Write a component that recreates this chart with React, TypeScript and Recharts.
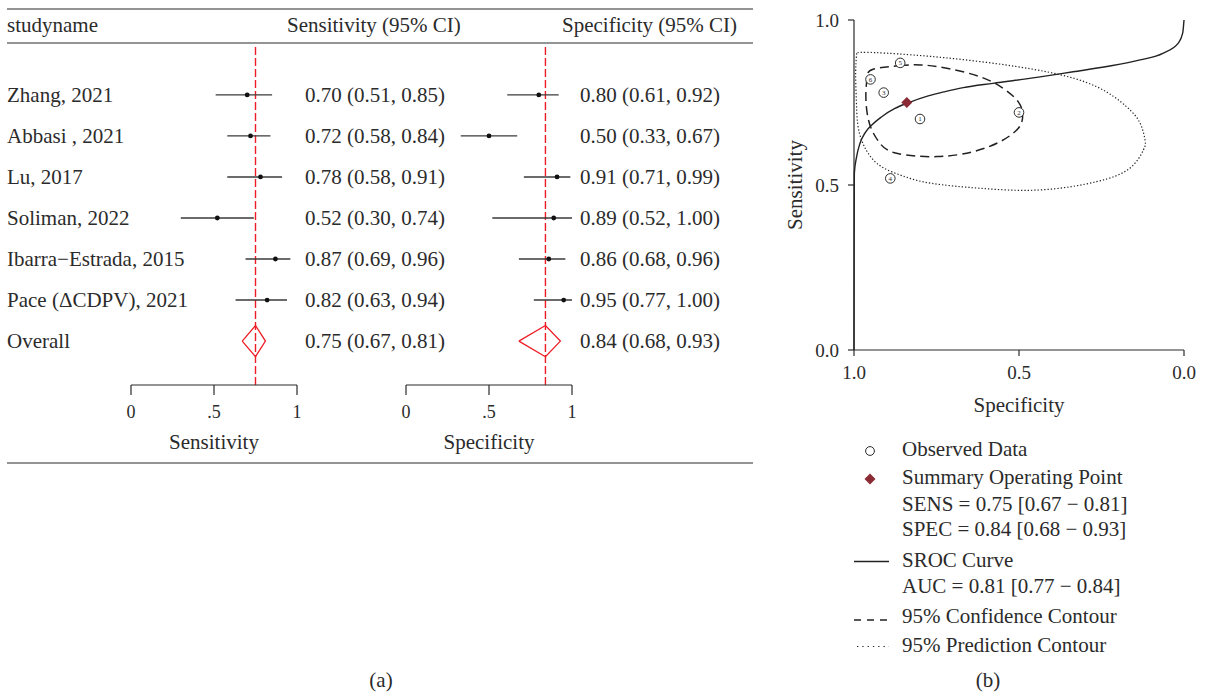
import React from 'react';
import { ScatterChart, Scatter, XAxis, YAxis, ErrorBar, ReferenceLine } from 'recharts';

const FONT = '"Liberation Serif", "Times New Roman", serif';
const INK = '#2b2b2b';
const RED = '#ee1c25';
const MAROON = '#8b2b35';

// forest plot data
const studies = ['Zhang, 2021', 'Abbasi , 2021', 'Lu, 2017', 'Soliman, 2022', 'Ibarra\u2212Estrada, 2015', 'Pace (\u0394CDPV), 2021'];
const sensEst = [0.7, 0.72, 0.78, 0.52, 0.87, 0.82];
const sensLow = [0.51, 0.58, 0.58, 0.3, 0.69, 0.63];
const sensHigh = [0.85, 0.84, 0.91, 0.74, 0.96, 0.94];
const specEst = [0.8, 0.5, 0.91, 0.89, 0.86, 0.95];
const specLow = [0.61, 0.33, 0.71, 0.52, 0.68, 0.77];
const specHigh = [0.92, 0.67, 0.99, 1.0, 0.96, 1.0];
const sensOverall = [0.75, 0.67, 0.81];
const specOverall = [0.84, 0.68, 0.93];
const aucOverall = [0.81, 0.77, 0.84];
const forestTicks = [0, 0.5, 1];

// SROC panel data (specificity, sensitivity)
const srocSpec = [1.0, 0.9995, 0.999, 0.992, 0.982, 0.967, 0.946, 0.916, 0.876, 0.836, 0.775, 0.724, 0.669, 0.579, 0.446, 0.336, 0.234, 0.133, 0.064, 0.018, 0.004, 0.0];
const srocSens = [0.0, 0.35, 0.535, 0.586, 0.626, 0.657, 0.682, 0.707, 0.732, 0.749, 0.77, 0.783, 0.795, 0.808, 0.826, 0.843, 0.859, 0.879, 0.899, 0.929, 0.96, 1.0];
const confSpec = [0.861, 0.8, 0.719, 0.618, 0.548, 0.502, 0.489, 0.502, 0.558, 0.639, 0.749, 0.871, 0.921, 0.946, 0.96, 0.964, 0.96, 0.942, 0.861];
const confSens = [0.862, 0.864, 0.854, 0.828, 0.793, 0.752, 0.712, 0.672, 0.631, 0.601, 0.586, 0.596, 0.626, 0.667, 0.717, 0.778, 0.828, 0.851, 0.862];
const predSpec = [0.992, 0.995, 0.993, 0.989, 0.977, 0.957, 0.916, 0.845, 0.765, 0.618, 0.436, 0.265, 0.164, 0.123, 0.118, 0.133, 0.174, 0.265, 0.416, 0.618, 0.82, 0.962, 0.992];
const predSens = [0.899, 0.838, 0.76, 0.687, 0.636, 0.596, 0.555, 0.525, 0.505, 0.49, 0.485, 0.51, 0.551, 0.606, 0.636, 0.687, 0.737, 0.798, 0.843, 0.874, 0.894, 0.902, 0.899];
const srocTicks = [0, 0.5, 1];

const fmt = (v: number) => v.toFixed(2);
const ciText = (e: number, l: number, h: number) => `${fmt(e)} (${fmt(l)}, ${fmt(h)})`;
const rowOf = (i: number) => studies.length + 1 - i;
const rowTicks = Array.from({ length: studies.length + 1 }, (_, i) => i + 1);

const buildRows = (est: number[], low: number[], high: number[]) =>
  studies.map((name, i) => ({
    name,
    x: est[i],
    y: rowOf(i),
    err: [est[i] - low[i], high[i] - est[i]],
    label: ciText(est[i], low[i], high[i]),
  }));

const diamond = ([e, l, h]: number[]) => [
  { x: l, y: 1 },
  { x: e, y: 1.38 },
  { x: h, y: 1 },
  { x: e, y: 0.62 },
  { x: l, y: 1 },
];

const pairs = (xs: number[], ys: number[]) => xs.map((spec, i) => ({ spec, sens: ys[i] }));

const Blank = () => <g />;
const Dot = (p: any) => <circle cx={p.cx} cy={p.cy} r={2.4} fill="#111" />;

const NumberedDot = (p: any) => (
  <g>
    <circle cx={p.cx} cy={p.cy} r={4.8} fill="#fff" stroke={INK} strokeWidth={1} />
    <text x={p.cx} y={p.cy} dy={2.4} textAnchor="middle" fontSize={7} fill={INK} fontFamily={FONT}>
      {p.payload.id}
    </text>
  </g>
);

const SummaryDot = (p: any) => (
  <polygon
    points={`${p.cx},${p.cy - 5.5} ${p.cx + 5.5},${p.cy} ${p.cx},${p.cy + 5.5} ${p.cx - 5.5},${p.cy}`}
    fill={MAROON}
  />
);

const textStyle = { fontFamily: FONT, fontSize: 21, fill: INK };

function ForestPanel(props: {
  est: number[];
  low: number[];
  high: number[];
  overall: number[];
  title: string;
  left: number;
  width: number;
  marginLeft: number;
  nameAxis: boolean;
  rightWidth: number;
  ciX: number;
}) {
  const rows = buildRows(props.est, props.low, props.high);
  const ciLabels: Record<number, string> = { 1: ciText(props.overall[0], props.overall[1], props.overall[2]) };
  const names: Record<number, string> = { 1: 'Overall' };
  rows.forEach((r) => {
    ciLabels[r.y] = r.label;
    names[r.y] = r.name;
  });

  return (
    <div style={{ position: 'absolute', left: props.left, top: 0 }}>
      <ScatterChart width={props.width} height={465} margin={{ top: 44, right: 0, bottom: 10, left: props.marginLeft }}>
        <XAxis
          type="number"
          dataKey="x"
          domain={[0, 1]}
          ticks={forestTicks}
          interval={0}
          tickFormatter={(v: number) => String(v).replace(/^0\./, '.')}
          axisLine={{ stroke: INK, strokeWidth: 1.2 }}
          tickLine={{ stroke: INK, strokeWidth: 1.2 }}
          tickSize={10}
          tickMargin={10}
          height={70}
          tick={{ fill: INK, fontSize: 18, fontFamily: FONT }}
          label={(lp: any) => (
            <text x={lp.viewBox.x + lp.viewBox.width / 2} y={lp.viewBox.y + 64} textAnchor="middle" {...textStyle}>
              {props.title}
            </text>
          )}
        />
        <YAxis
          yAxisId="l"
          type="number"
          dataKey="y"
          domain={[-0.07, 8.24]}
          ticks={rowTicks}
          interval={0}
          hide={!props.nameAxis}
          width={131}
          axisLine={false}
          tickLine={false}
          tick={(tp: any) => (
            <text x={7} y={tp.y} dy={7} textAnchor="start" {...textStyle}>
              {names[tp.payload.value]}
            </text>
          )}
        />
        <YAxis
          yAxisId="r"
          orientation="right"
          type="number"
          dataKey="y"
          domain={[-0.07, 8.24]}
          ticks={rowTicks}
          interval={0}
          width={props.rightWidth}
          axisLine={false}
          tickLine={false}
          tick={(tp: any) => (
            <text x={props.ciX} y={tp.y} dy={7} textAnchor="start" {...textStyle}>
              {ciLabels[tp.payload.value]}
            </text>
          )}
        />
        <ReferenceLine yAxisId="l" x={props.overall[0]} stroke={RED} strokeWidth={1.4} strokeDasharray="8 3" />
        <Scatter yAxisId="l" data={rows} shape={Dot} isAnimationActive={false}>
          <ErrorBar dataKey="err" direction="x" width={0} stroke="#3a3a3a" strokeWidth={1.4} isAnimationActive={false} />
        </Scatter>
        <Scatter
          yAxisId="r"
          data={diamond(props.overall)}
          line={{ stroke: RED, strokeWidth: 1.3 }}
          lineType="joint"
          shape={Blank}
          isAnimationActive={false}
        />
      </ScatterChart>
    </div>
  );
}

function SrocPanel() {
  const observed = studies.map((_, i) => ({ id: i + 1, spec: specEst[i], sens: sensEst[i] }));
  const summary = [{ spec: specOverall[0], sens: sensOverall[0] }];
  return (
    <div style={{ position: 'absolute', left: 780, top: 0 }}>
      <ScatterChart width={425} height={420} margin={{ top: 20, right: 21, bottom: 10, left: 14 }}>
        <XAxis
          type="number"
          dataKey="spec"
          domain={[0, 1]}
          reversed
          ticks={srocTicks}
          interval={0}
          tickFormatter={(v: number) => v.toFixed(1)}
          axisLine={{ stroke: INK, strokeWidth: 1.2 }}
          tickLine={{ stroke: INK, strokeWidth: 1.2 }}
          tickSize={6}
          tickMargin={10}
          height={60}
          tick={{ fill: INK, fontSize: 19, fontFamily: FONT }}
          label={(lp: any) => (
            <text x={lp.viewBox.x + lp.viewBox.width / 2} y={lp.viewBox.y + 62} textAnchor="middle" {...textStyle}>
              Specificity
            </text>
          )}
        />
        <YAxis
          type="number"
          dataKey="sens"
          domain={[0, 1]}
          ticks={srocTicks}
          interval={0}
          tickFormatter={(v: number) => v.toFixed(1)}
          axisLine={{ stroke: INK, strokeWidth: 1.2 }}
          tickLine={{ stroke: INK, strokeWidth: 1.2 }}
          tickSize={6}
          tickMargin={9}
          width={60}
          tick={{ fill: INK, fontSize: 19, fontFamily: FONT }}
          label={(lp: any) => {
            const x = lp.viewBox.x + 8;
            const y = lp.viewBox.y + lp.viewBox.height / 2;
            return (
              <text x={x} y={y} transform={`rotate(-90, ${x}, ${y})`} textAnchor="middle" {...textStyle}>
                Sensitivity
              </text>
            );
          }}
        />
        <Scatter
          data={pairs(predSpec, predSens)}
          line={{ stroke: '#222', strokeWidth: 1.2, strokeDasharray: '1.3 2' }}
          lineType="joint"
          lineJointType="natural"
          shape={Blank}
          isAnimationActive={false}
        />
        <Scatter
          data={pairs(confSpec, confSens)}
          line={{ stroke: '#222', strokeWidth: 1.5, strokeDasharray: '9 5' }}
          lineType="joint"
          lineJointType="natural"
          shape={Blank}
          isAnimationActive={false}
        />
        <Scatter
          data={pairs(srocSpec, srocSens)}
          line={{ stroke: '#222', strokeWidth: 1.4 }}
          lineType="joint"
          lineJointType="monotoneX"
          shape={Blank}
          isAnimationActive={false}
        />
        <Scatter data={observed} shape={NumberedDot} isAnimationActive={false} />
        <Scatter data={summary} shape={SummaryDot} isAnimationActive={false} />
      </ScatterChart>
    </div>
  );
}

function Overlay() {
  const t = (x: number, y: number, s: string, anchor: 'start' | 'middle' | 'end' = 'start') => (
    <text x={x} y={y} textAnchor={anchor} {...textStyle}>
      {s}
    </text>
  );
  const rule = (y: number) => <line x1={7} x2={753} y1={y} y2={y} stroke={INK} strokeWidth={1.2} />;
  return (
    <svg width={1205} height={697} style={{ position: 'absolute', left: 0, top: 0, pointerEvents: 'none' }}>
      {rule(9)}
      {rule(43)}
      {rule(463)}
      {t(7, 31.5, 'studyname')}
      {t(287, 31.5, 'Sensitivity (95% CI)')}
      {t(562, 31.5, 'Specificity (95% CI)')}
      {t(381, 687, '(a)', 'middle')}
      {t(988, 687, '(b)', 'middle')}

      <circle cx={870} cy={451} r={4.4} fill="#fff" stroke={INK} strokeWidth={1} />
      {t(902, 456, 'Observed Data')}
      <polygon points="870,473.5 875.5,479 870,484.5 864.5,479" fill={MAROON} />
      {t(902, 484, 'Summary Operating Point')}
      {t(902, 510.5, `SENS = ${fmt(sensOverall[0])} [${fmt(sensOverall[1])} \u2212 ${fmt(sensOverall[2])}]`)}
      {t(902, 535.5, `SPEC = ${fmt(specOverall[0])} [${fmt(specOverall[1])} \u2212 ${fmt(specOverall[2])}]`)}
      <line x1={854} x2={889} y1={561.5} y2={561.5} stroke="#222" strokeWidth={1.4} />
      {t(902, 566.5, 'SROC Curve')}
      {t(902, 592.5, `AUC = ${fmt(aucOverall[0])} [${fmt(aucOverall[1])} \u2212 ${fmt(aucOverall[2])}]`)}
      <line x1={854} x2={889} y1={620} y2={620} stroke="#222" strokeWidth={1.4} strokeDasharray="7 6" />
      {t(902, 623, '95% Confidence Contour')}
      <line x1={857} x2={889} y1={646.5} y2={646.5} stroke="#222" strokeWidth={1.2} strokeDasharray="1.3 4" />
      {t(902, 651.5, '95% Prediction Contour')}
    </svg>
  );
}

export default function App() {
  return (
    <div style={{ position: 'absolute', left: 0, top: 0, width: 1205, height: 697, background: '#fff', fontFamily: FONT }}>
      <ForestPanel
        est={sensEst}
        low={sensLow}
        high={sensHigh}
        overall={sensOverall}
        title="Sensitivity"
        left={0}
        width={470}
        marginLeft={0}
        nameAxis
        rightWidth={173}
        ciX={305}
      />
      <ForestPanel
        est={specEst}
        low={specLow}
        high={specHigh}
        overall={specOverall}
        title="Specificity"
        left={380}
        width={380}
        marginLeft={26}
        nameAxis={false}
        rightWidth={188}
        ciX={200}
      />
      <SrocPanel />
      <Overlay />
    </div>
  );
}
